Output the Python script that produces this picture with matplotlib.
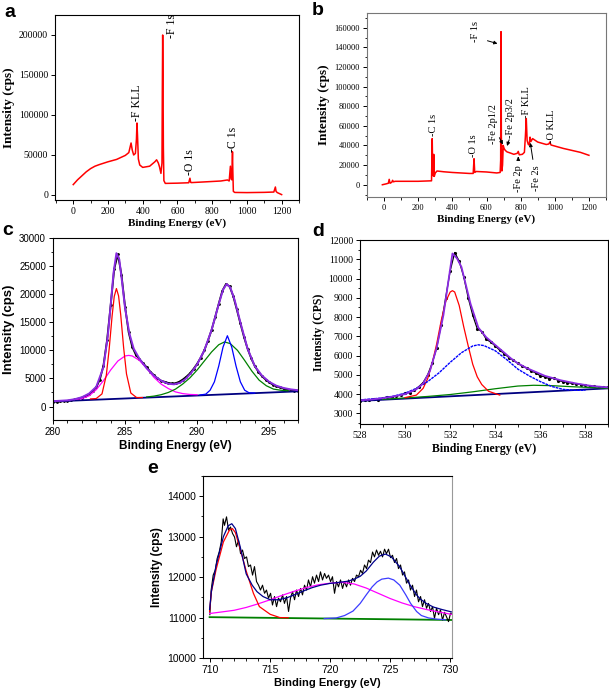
import matplotlib
matplotlib.use('Agg')
from matplotlib import pyplot as plt
from matplotlib.ticker import MultipleLocator

# --- a: survey spectrum ---
a_e = [0, 25, 50, 75, 100, 125, 150, 200, 250, 300,
       320, 333, 340, 348, 358, 364, 367, 370, 375, 383,
       400, 440, 470, 480, 490, 497, 505, 511, 513, 515,
       517, 519, 522, 530, 600, 665, 672, 676, 680, 750,
       850, 888, 898, 905, 909, 913, 917, 919, 922, 930,
       1000, 1100, 1155, 1164, 1168, 1175, 1190, 1200]
a_i = [13000, 19000, 24000, 29000, 33000, 36000, 38000, 41500, 44500, 49500,
       53000, 65000, 56000, 50000, 52000, 70000, 90000, 75000, 45000, 37500,
       34500, 36000, 41500, 44000, 40000, 35000, 27000, 40000, 130000, 200000,
       150000, 60000, 18000, 14500, 14800, 15300, 21000, 15800, 15500, 16300,
       17500, 18800, 17500, 36000, 20000, 19000, 54000, 30000, 4500, 3200,
       3000, 3300, 3700, 10000, 4500, 3000, 1500, 500]
a_labels = ['-F KLL', '-F 1s', '-O 1s', '-C 1s']
a_label_x = [367, 568, 674, 922]
a_label_y = [92000, 196000, 25000, 54000]

# --- b: survey spectrum ---
b_e = [-10, 10, 25, 30, 35, 45, 50, 55, 65, 100,
       200, 278, 282, 285, 288, 291, 294, 300, 310, 350,
       400, 450, 500, 522, 527, 531, 540, 600, 660, 680,
       683, 685, 687, 690, 694, 698, 703, 710, 720, 740,
       760, 780, 786, 792, 810, 822, 828, 833, 838, 845,
       850, 855, 860, 870, 900, 950, 965, 971, 978, 1050,
       1100, 1150, 1200]
b_i = [0, 800, 1500, 5500, 1500, 2500, 4500, 3000, 3500, 3500,
       3500, 4000, 47000, 12000, 9000, 31000, 8500, 12000, 14000, 13200,
       12500, 12000, 11500, 11500, 26500, 12500, 13500, 13000, 12000, 12500,
       25000, 156000, 50000, 14000, 20000, 40000, 37000, 35000, 33500, 32300,
       31000, 32000, 34000, 30500, 31000, 33000, 50000, 67500, 45000, 41000,
       40500, 48500, 44000, 47000, 43500, 41000, 41500, 43500, 40500, 37000,
       35000, 33000, 30000]
b_labels = ['-C 1s', '-O 1s', '-F 1s', '-Fe 2p1/2', '-Fe 2p3/2', '-Fe 2p', '-F KLL', '-Fe 2s', '-O KLL']
b_label_x = [287, 524, 534, 641, 742, 786, 835, 893, 981]
b_label_y = [50000, 28000, 145000, 42000, 48000, -7500, 67500, -6000, 42500]
# arrows: (from x, from y, to x, to y)
b_arrows = [(590, 147500, 680, 143000), (668, 50500, 703, 38500), (738, 48500, 715, 36800),
            (786, 24000, 786, 31500), (874, 23000, 854, 45500)]

# --- c: C 1s ---
c_raw_e = [280.00, 280.25, 280.50, 280.75, 281.00, 281.25, 281.50, 281.75, 282.00, 282.25,
           282.50, 282.75, 283.00, 283.25, 283.50, 283.75, 284.00, 284.25, 284.50, 284.75,
           285.00, 285.25, 285.50, 285.75, 286.00, 286.25, 286.50, 286.75, 287.00, 287.25,
           287.50, 287.75, 288.00, 288.25, 288.50, 288.75, 289.00, 289.25, 289.50, 289.75,
           290.00, 290.25, 290.50, 290.75, 291.00, 291.25, 291.50, 291.75, 292.00, 292.25,
           292.50, 292.75, 293.00, 293.25, 293.50, 293.75, 294.00, 294.25, 294.50, 294.75,
           295.00, 295.25, 295.50, 295.75, 296.00, 296.25, 296.50, 296.75, 297.00]
c_raw = [850, 870, 900, 950, 1000, 1100, 1250, 1400, 1600, 1850,
         2200, 2700, 3400, 4800, 7300, 11800, 18000, 24500, 27100, 23500,
         17800, 13200, 10600, 9200, 8400, 7700, 7000, 6200, 5600, 5000,
         4600, 4400, 4200, 4100, 4150, 4400, 4800, 5300, 5900, 6700,
         7600, 8700, 10000, 11700, 13600, 15900, 18300, 20600, 21800, 21400,
         19700, 17300, 14800, 12400, 10300, 8600, 7200, 6200, 5400, 4800,
         4300, 3900, 3600, 3400, 3200, 3050, 2950, 2850, 2800]
c_fit_e = [280, 281, 281.5, 282, 282.5, 283, 283.5, 283.8, 284, 284.2,
           284.4, 284.6, 284.8, 285, 285.3, 285.6, 286, 286.5, 287, 287.5,
           288, 288.4, 288.8, 289.2, 289.6, 290, 290.5, 291, 291.5, 291.8,
           292.05, 292.3, 292.6, 293, 293.5, 294, 294.5, 295, 295.5, 296,
           296.5, 297]
c_fit = [950, 1100, 1300, 1650, 2300, 3500, 7000, 12500, 18000, 23800,
         27300, 26200, 22000, 17500, 13000, 10300, 8500, 6800, 5500, 4600,
         4050, 3950, 4200, 4900, 6000, 7500, 10000, 13600, 18200, 20800,
         21800, 21200, 19000, 15000, 10300, 7200, 5500, 4400, 3700, 3300,
         3050, 2900]
c_red_e = [282.6, 283.0, 283.4, 283.7, 283.9, 284.1, 284.25, 284.4, 284.55, 284.7,
           284.9, 285.1, 285.4, 285.8, 286.2]
c_red = [1350, 1420, 2250, 5600, 10300, 16100, 19600, 21000, 19700, 16300,
         10500, 5800, 2400, 1600, 1600]
c_mag_e = [281.5, 282, 282.5, 283, 283.5, 284, 284.5, 285, 285.25, 285.5,
           286, 286.5, 287, 287.5, 288, 288.5, 289, 289.5, 290]
c_mag = [1250, 1400, 1900, 3000, 4600, 6500, 8100, 9000, 9100, 9000,
         8200, 6800, 5200, 4000, 3200, 2600, 2300, 2150, 2100]
c_green_e = [286.5, 287, 287.5, 288, 288.5, 289, 289.5, 290, 290.5, 291,
             291.5, 291.9, 292.3, 292.8, 293.3, 293.8, 294.3, 294.8, 295.3, 295.8, 296.3]
c_green = [1700, 1850, 2100, 2500, 3100, 4000, 5100, 6500, 8100, 9700,
           11000, 11500, 11200, 10000, 8200, 6300, 4700, 3700, 3100, 2900, 2800]
c_blue_e = [290.2, 290.6, 290.9, 291.2, 291.5, 291.8, 292.1, 292.4, 292.7, 293.0,
            293.3, 293.6, 294.0]
c_blue = [2050, 2200, 2900, 4400, 7200, 10600, 12600, 10600, 7200, 4400,
          2900, 2450, 2400]
c_base_e = [280, 297]
c_base = [900, 2700]

# --- d: O 1s ---
d_raw_e = [528.0, 528.2, 528.4, 528.6, 528.8, 529.0, 529.2, 529.4, 529.6, 529.8,
           530.0, 530.2, 530.4, 530.6, 530.8, 531.0, 531.2, 531.4, 531.6, 531.8,
           532.0, 532.2, 532.4, 532.6, 532.8, 533.0, 533.2, 533.4, 533.6, 533.8,
           534.0, 534.2, 534.4, 534.6, 534.8, 535.0, 535.2, 535.4, 535.6, 535.8,
           536.0, 536.2, 536.4, 536.6, 536.8, 537.0, 537.2, 537.4, 537.6, 537.8,
           538.0, 538.2, 538.4, 538.6, 538.8, 539.0]
d_raw = [3650, 3700, 3680, 3760, 3720, 3800, 3850, 3830, 3900, 3950,
         4050, 4080, 4200, 4380, 4600, 5000, 5600, 6400, 7600, 9000,
         10400, 11350, 10900, 10100, 9000, 8100, 7400, 7250, 6850, 6700,
         6500, 6280, 6100, 5900, 5750, 5600, 5450, 5350, 5200, 5100,
         4950, 4900, 4800, 4830, 4700, 4650, 4600, 4560, 4520, 4500,
         4450, 4430, 4400, 4380, 4360, 4350]
d_fit_e = [528.0, 528.5, 529.0, 529.5, 530.0, 530.5, 530.8, 531.1, 531.4, 531.7,
           531.9, 532.1, 532.3, 532.5, 532.9, 533.25, 533.6, 533.9, 534.3, 534.7,
           535.0, 535.4, 535.8, 536.2, 536.9, 537.6, 538.3, 539.0]
d_fit = [3680, 3720, 3790, 3880, 4000, 4250, 4550, 5200, 6400, 8100,
         9700, 11300, 11050, 10600, 8700, 7450, 6950, 6650, 6250, 5850,
         5600, 5350, 5150, 4950, 4720, 4550, 4420, 4350]
d_red_e = [530.0, 530.5, 530.8, 531.0, 531.2, 531.4, 531.6, 531.8, 532.0, 532.1,
           532.2, 532.4, 532.6, 532.8, 533.0, 533.2, 533.4, 533.7, 534.2]
d_red = [3820, 3950, 4300, 4800, 5600, 6600, 7800, 8800, 9300, 9370,
         9300, 8600, 7500, 6500, 5550, 4900, 4500, 4150, 3950]
d_blue_e = [528.0, 528.5, 529.0, 529.5, 530.0, 530.5, 531.0, 531.5, 532.0, 532.5,
            533.0, 533.25, 533.5, 534.0, 534.5, 535.0, 535.5, 536.0, 536.5, 537.0,
            537.5, 538.0]
d_blue = [3700, 3750, 3800, 3900, 4050, 4300, 4650, 5100, 5650, 6150,
          6500, 6560, 6520, 6250, 5800, 5300, 4950, 4650, 4400, 4250,
          4200, 4200]
d_green_e = [529.0, 530.0, 531.0, 532.0, 533.0, 534.0, 535.0, 535.7, 536.5, 537.5, 538.5, 539.0]
d_green = [3730, 3800, 3880, 3980, 4120, 4280, 4420, 4460, 4440, 4380, 4330, 4300]
d_base_e = [528, 539]
d_base = [3650, 4300]

# --- e: Fe 2p ---
e_raw_e = [709.97, 710.08, 710.25, 710.42, 710.58, 710.75, 710.92, 711.08, 711.19, 711.36,
           711.53, 711.69, 711.86, 712.03, 712.19, 712.36, 712.53, 712.69, 712.86, 713.03,
           713.19, 713.36, 713.53, 713.69, 713.86, 714.03, 714.19, 714.36, 714.53, 714.69,
           714.86, 715.03, 715.19, 715.36, 715.53, 715.69, 715.86, 716.03, 716.19, 716.36,
           716.53, 716.69, 716.86, 717.03, 717.19, 717.36, 717.53, 717.69, 717.86, 718.03,
           718.19, 718.36, 718.53, 718.69, 718.86, 719.03, 719.19, 719.36, 719.53, 719.69,
           719.86, 720.03, 720.19, 720.36, 720.53, 720.69, 720.86, 721.03, 721.19, 721.36,
           721.53, 721.69, 721.86, 722.03, 722.19, 722.36, 722.53, 722.69, 722.86, 723.03,
           723.19, 723.36, 723.53, 723.69, 723.86, 724.03, 724.19, 724.36, 724.53, 724.69,
           724.86, 725.03, 725.19, 725.36, 725.53, 725.69, 725.86, 726.03, 726.19, 726.36,
           726.53, 726.69, 726.86, 727.03, 727.19, 727.36, 727.53, 727.69, 727.86, 728.03,
           728.19, 728.36, 728.53, 728.69, 728.86, 729.03, 729.19, 729.36, 729.53, 729.69,
           729.86, 730.03, 730.19]
e_raw = [11070, 11680, 12050, 12170, 12460, 12620, 12870, 13440, 13280, 13490,
         13160, 13240, 13080, 12990, 12750, 12910, 12580, 12670, 12460, 12500,
         12260, 12300, 12050, 12260, 11890, 11800, 11680, 11800, 11600, 11680,
         11480, 11600, 11310, 11520, 11270, 11480, 11390, 11560, 11350, 11520,
         11150, 11480, 11640, 11440, 11680, 11520, 11720, 11560, 11800, 11680,
         11930, 11760, 12010, 11850, 12050, 11890, 12130, 11930, 12090, 11970,
         12050, 11890, 12010, 11600, 11890, 11760, 11930, 11720, 11890, 11760,
         11930, 11800, 11970, 11890, 12050, 12010, 12170, 12090, 12300, 12210,
         12420, 12360, 12620, 12500, 12670, 12540, 12640, 12500, 12690, 12580,
         12690, 12480, 12540, 12360, 12460, 12210, 12300, 12050, 12130, 11850,
         11930, 11680, 11800, 11520, 11680, 11390, 11520, 11270, 11440, 11230,
         11350, 11150, 11270, 10980, 11230, 11070, 11190, 10940, 11130, 11020,
         10900, 11110, 11070]
e_fit_e = [709.95, 710.1, 710.5, 711.1, 711.5, 711.8, 712.1, 712.5, 713.0, 713.5,
           713.9, 714.4, 715.0, 715.7, 716.4, 717.0, 717.8, 718.5, 719.2, 720.0,
           720.5, 721.0, 721.5, 722.0, 722.5, 723.0, 723.6, 724.1, 724.6, 725.1,
           725.8, 726.3, 726.7, 727.2, 727.5, 728.0, 728.6, 729.3, 730.1]
e_fit = [11200, 11650, 12300, 13000, 13270, 13320, 13200, 12750, 12080, 11800,
         11640, 11520, 11440, 11440, 11490, 11560, 11660, 11740, 11800, 11845,
         11860, 11880, 11900, 11950, 12020, 12150, 12370, 12520, 12570, 12500,
         12250, 11990, 11780, 11560, 11460, 11350, 11260, 11200, 11140]
e_red_e = [709.95, 710.1, 710.5, 711.1, 711.6, 711.85, 712.1, 712.5, 713.0, 713.6,
           714.1, 715.0, 715.8, 716.5]
e_red = [11150, 11640, 12200, 12870, 13160, 13200, 13100, 12700, 12150, 11600,
         11270, 11080, 11000, 10995]
e_mag_e = [709.95, 711, 712, 713, 714, 715, 716, 717, 718, 719,
           720, 721, 722, 723, 724, 725, 726, 727, 728, 729, 730.1]
e_mag = [11100, 11140, 11180, 11250, 11340, 11440, 11550, 11650, 11740, 11810,
         11850, 11870, 11830, 11730, 11600, 11470, 11360, 11270, 11200, 11140, 11080]
e_blue_e = [719.5, 720.5, 721.2, 721.9, 722.5, 723.0, 723.5, 723.9, 724.3, 724.85,
            725.3, 725.8, 726.3, 726.7, 727.2, 727.6, 728.2, 728.9, 729.6]
e_blue = [10975, 10990, 11050, 11160, 11350, 11560, 11760, 11880, 11950, 11975,
          11930, 11800, 11560, 11350, 11150, 11050, 10990, 10960, 10945]
e_base_e = [709.95, 730.15]
e_base = [11010, 10940]

SERIF = 'Liberation Serif'
SANS = 'Liberation Sans'

fig = plt.figure(figsize=(6.09, 6.90), dpi=100)


def box(l, t, r, b):
    # pixel box -> figure axes
    return fig.add_axes([l / 609, 1 - b / 690, (r - l) / 609, (b - t) / 690])


def style(ax, family, ylabel, xmaj, xmin, ymaj, ymin, size=7, xl=8, yl=9.5, edge='black'):
    ax.xaxis.set_major_locator(MultipleLocator(xmaj))
    ax.xaxis.set_minor_locator(MultipleLocator(xmin))
    ax.yaxis.set_major_locator(MultipleLocator(ymaj))
    if ymin:
        ax.yaxis.set_minor_locator(MultipleLocator(ymin))
    ax.tick_params(which='major', direction='out', length=3, width=0.7, labelsize=size, pad=2)
    ax.tick_params(which='minor', direction='out', length=1.8, width=0.6)
    for lab in ax.get_xticklabels() + ax.get_yticklabels():
        lab.set_family(family)
    for s in ax.spines.values():
        s.set_color(edge)
        s.set_linewidth(0.8)
    ax.set_xlabel('Binding Energy (eV)', family=family, fontsize=xl, fontweight='bold', labelpad=2)
    ax.set_ylabel(ylabel, family=family, fontsize=yl, fontweight='bold', labelpad=3)


# a
ax = box(55, 15, 299, 200)
ax.plot(a_e, a_i, c='red', lw=1.1)
ax.set_xlim(-105, 1300)
ax.set_ylim(-6250, 225000)
for t, x, y in zip(a_labels, a_label_x, a_label_y):
    ax.text(x, y, t, rotation=90, ha='center', va='bottom', fontsize=8.5, family=SERIF)
style(ax, SERIF, 'Intensity (cps)', 200, 100, 50000, None)

# b
ax = box(367, 13, 606, 197)
ax.plot(b_e, b_i, c='red', lw=1.1)
ax.set_xlim(-100, 1300)
ax.set_ylim(-12500, 175000)
for t, x, y in zip(b_labels, b_label_x, b_label_y):
    ax.text(x, y, t, rotation=90, ha='center', va='bottom', fontsize=7.5, family=SERIF)
for x0, y0, x1, y1 in b_arrows:
    ax.annotate('', xy=(x1, y1), xytext=(x0, y0),
                arrowprops=dict(arrowstyle='-|>', color='black', lw=0.7, mutation_scale=5))
style(ax, SERIF, 'Intensity (cps)', 200, 100, 20000, 10000, size=6, edge='#777777')

# c
ax = box(53, 238, 298, 420)
ax.plot(c_raw_e, c_raw, c='black', lw=1.3, marker='.', ms=2)
ax.plot(c_base_e, c_base, c='#000080', lw=1.3)
ax.plot(c_mag_e, c_mag, c='#ff00ff', lw=0.9)
ax.plot(c_red_e, c_red, c='red', lw=0.9)
ax.plot(c_green_e, c_green, c='green', lw=0.9)
ax.plot(c_blue_e, c_blue, c='blue', lw=0.9)
ax.plot(c_fit_e, c_fit, c='#8a2be2', lw=1.4)
ax.set_xlim(280, 297)
ax.set_ylim(-2400, 30000)
style(ax, SANS, 'Intensity (cps)', 5, 1, 5000, 2500, xl=8.5, yl=9.5)

# d
ax = box(360, 240, 608, 424)
ax.plot(d_raw_e, d_raw, c='black', lw=0.9, marker='.', ms=2.5)
ax.plot(d_base_e, d_base, c='#000080', lw=1.3)
ax.plot(d_green_e, d_green, c='green', lw=0.9)
ax.plot(d_red_e, d_red, c='red', lw=0.9)
ax.plot(d_blue_e, d_blue, c='blue', lw=1.0, ls=(0, (2, 0.6)))
ax.plot(d_fit_e, d_fit, c='#8a2be2', lw=1.3)
ax.set_xlim(528, 539)
ax.set_ylim(2450, 12000)
style(ax, SERIF, 'Intensity (CPS)', 2, 1, 1000, 500, xl=8.5, yl=8.5)

# e
ax = box(203, 476, 452, 658)
ax.plot(e_base_e, e_base, c='green', lw=1.3)
ax.plot(e_raw_e, e_raw, c='black', lw=0.8)
ax.plot(e_mag_e, e_mag, c='#ff00ff', lw=0.9)
ax.plot(e_red_e, e_red, c='red', lw=0.9)
ax.plot(e_blue_e, e_blue, c='#3c3cff', lw=0.9)
ax.plot(e_fit_e, e_fit, c='#00008b', lw=0.9)
ax.set_xlim(709.4, 730.15)
ax.set_ylim(10000, 14500)
style(ax, SANS, 'Intensity (cps)', 5, 1, 1000, 500, size=7.5, xl=8, yl=8.5)
ax.spines['right'].set_color('#999999')

# panel letters
for t, x, y in [('a', 4, 4), ('b', 312, 2), ('c', 2, 222), ('d', 312, 223), ('e', 147, 460)]:
    fig.text(x / 609, 1 - y / 690, t, fontsize=14, fontweight='bold', family=SANS, va='top')

fig.savefig('out.png', dpi=100)
